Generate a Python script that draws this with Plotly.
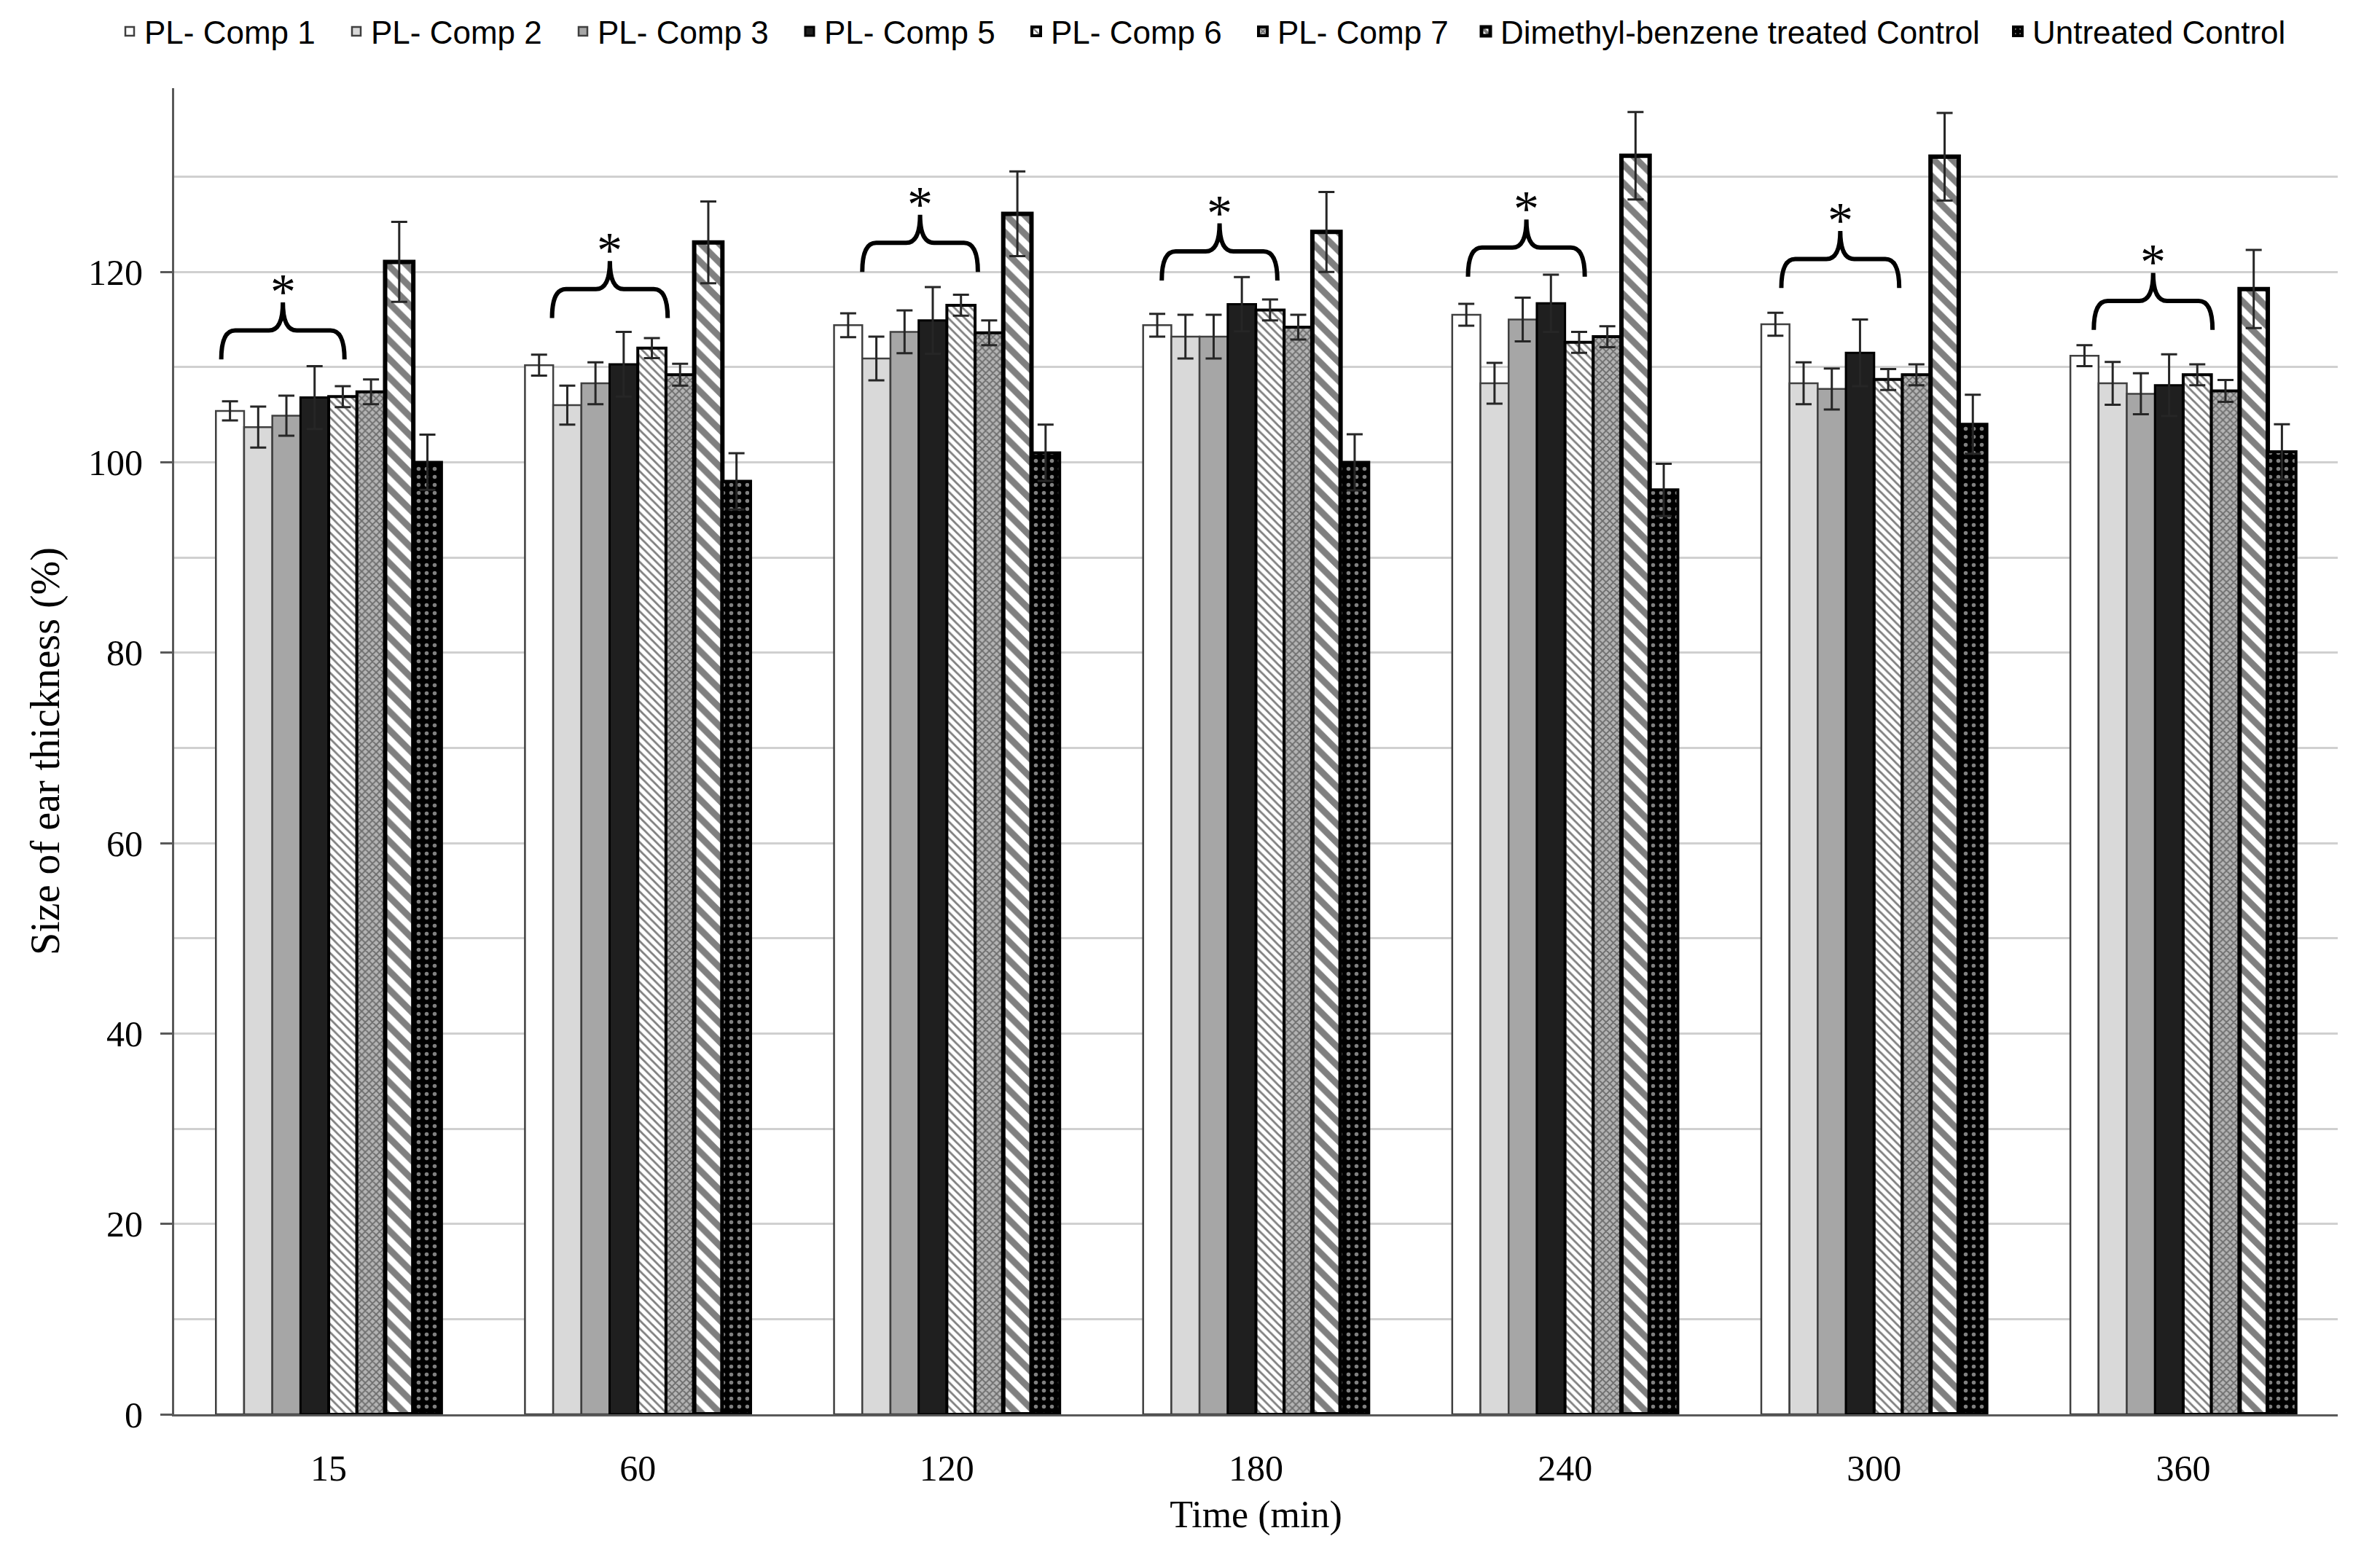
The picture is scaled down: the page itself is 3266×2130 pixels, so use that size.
import plotly.graph_objects as go

# ---------------- data ----------------
times = ["15", "60", "120", "180", "240", "300", "360"]

series_names = ["PL- Comp 1", "PL- Comp 2", "PL- Comp 3", "PL- Comp 5", "PL- Comp 6",
                "PL- Comp 7", "Dimethyl-benzene treated Control", "Untreated Control"]

comp1 = [105.4, 110.2, 114.4, 114.4, 115.5, 114.5, 111.2]
comp1_err = [1.0, 1.1, 1.25, 1.2, 1.15, 1.2, 1.1]
comp2 = [103.7, 106.0, 110.9, 113.2, 108.3, 108.3, 108.3]
comp2_err = [2.15, 2.05, 2.3, 2.3, 2.15, 2.2, 2.25]
comp3 = [104.9, 108.3, 113.7, 113.2, 115.0, 107.7, 107.2]
comp3_err = [2.1, 2.2, 2.25, 2.3, 2.3, 2.15, 2.15]
comp5 = [106.8, 110.3, 114.9, 116.6, 116.7, 111.5, 108.1]
comp5_err = [3.3, 3.4, 3.5, 2.85, 3.0, 3.5, 3.25]
comp6 = [106.9, 112.0, 116.5, 116.0, 112.6, 108.7, 109.2]
comp6_err = [1.1, 1.05, 1.1, 1.1, 1.1, 1.1, 1.1]
comp7 = [107.4, 109.2, 113.6, 114.2, 113.2, 109.2, 107.5]
comp7_err = [1.3, 1.15, 1.3, 1.3, 1.1, 1.1, 1.15]
dmb = [121.05, 123.1, 126.1, 124.2, 132.2, 132.1, 118.2]
dmb_err = [4.2, 4.3, 4.45, 4.2, 4.6, 4.6, 4.1]
untreated = [100.0, 98.0, 101.0, 100.0, 97.1, 104.0, 101.1]
untreated_err = [2.9, 2.95, 2.95, 2.95, 2.75, 3.1, 2.9]

# significance brace annotations (value level of brace feet)
brace_base = [110.8, 115.15, 120.0, 119.1, 119.5, 118.3, 113.9]

# ---------------- styling ----------------
values = [comp1, comp2, comp3, comp5, comp6, comp7, dmb, untreated]
errors = [comp1_err, comp2_err, comp3_err, comp5_err, comp6_err, comp7_err, dmb_err, untreated_err]

styles = [
    dict(color="#ffffff", line=dict(color="#404040", width=2.5)),
    dict(color="#d9d9d9", line=dict(color="#404040", width=2.5)),
    dict(color="#a6a6a6", line=dict(color="#404040", width=2.5)),
    dict(color="#1f1f1f", line=dict(color="#000000", width=3)),
    dict(color="#ffffff", line=dict(color="#000000", width=4),
         pattern=dict(shape="\\", fgcolor="#000000", bgcolor="#ffffff", size=8, solidity=0.35)),
    dict(color="#a0a0a0", line=dict(color="#000000", width=4),
         pattern=dict(shape="x", fgcolor="#222222", bgcolor="#b4b4b4", size=7, solidity=0.45)),
    dict(color="#ffffff", line=dict(color="#000000", width=6),
         pattern=dict(shape="\\", fgcolor="#000000", bgcolor="#ffffff", size=18, solidity=0.5)),
    dict(color="#000000", line=dict(color="#000000", width=4),
         pattern=dict(shape=".", fgcolor="#ffffff", bgcolor="#000000", size=11, solidity=0.2)),
]
legend_ids = ["legend"] * 6 + ["legend3", "legend2"]

W, H = 3266, 2130
xs = list(range(len(times)))

fig = go.Figure()
for name, vals, errs, st, lg in zip(series_names, values, errors, styles, legend_ids):
    fig.add_trace(go.Bar(
        x=xs, y=vals, name=name,
        marker=st,
        legend=lg,
        error_y=dict(type="data", array=errs, visible=True,
                     color="#262626", thickness=3, width=11),
    ))

BARGAP = 0.27
n_series = len(series_names)
bar_w = (1 - BARGAP) / n_series
brace_start_bars = [0.19, 0.96, 1.0, 0.66, 0.56, 0.71, 0.83]
brace_end_bars = [4.56, 5.06, 5.1, 4.76, 4.7, 4.89, 5.04]

shapes = []
annotations = []
for k, base in enumerate(brace_base):
    gl = k - (1 - BARGAP) / 2
    xl = gl + brace_start_bars[k] * bar_w
    xr = gl + brace_end_bars[k] * bar_w
    xm = (xl + xr) / 2
    ym = base + 3.05
    yt = base + 6.0
    dx = 0.045
    path = (f"M {xl},{base} Q {xl},{ym} {xl+dx},{ym} L {xm-dx},{ym} "
            f"Q {xm},{ym} {xm},{yt} Q {xm},{ym} {xm+dx},{ym} "
            f"L {xr-dx},{ym} Q {xr},{ym} {xr},{base}")
    shapes.append(dict(type="path", path=path, xref="x", yref="y",
                       line=dict(color="#000000", width=6)))
    annotations.append(dict(x=xm, y=yt, xref="x", yref="y", text="*",
                            showarrow=False, yanchor="bottom", yshift=-26,
                            font=dict(family="Liberation Serif", size=70, color="#000000")))

legend_font = dict(family="Liberation Sans Narrow, Liberation Sans, sans-serif", size=44, color="#000000")
common_legend = dict(orientation="h", xref="container", yref="container",
                     y=1.0, xanchor="left", yanchor="top",
                     font=legend_font, itemwidth=30, bgcolor="rgba(0,0,0,0)")

fig.update_layout(
    width=W, height=H,
    paper_bgcolor="#ffffff", plot_bgcolor="#ffffff",
    margin=dict(l=231, r=66, t=113, b=197),
    barmode="group", bargap=BARGAP, bargroupgap=0,
    font=dict(family="Liberation Serif", size=50, color="#000000"),
    showlegend=True,
    legend=dict(common_legend, x=150 / W, entrywidth=266),
    legend3=dict(common_legend, x=2011 / W),
    legend2=dict(common_legend, x=2741 / W),
    shapes=shapes,
    annotations=annotations,
)

fig.update_xaxes(
    range=[-0.5, len(times) - 0.5],
    tickmode="array", tickvals=xs, ticktext=times,
    showgrid=False, zeroline=False,
    showline=True, linecolor="#595959", linewidth=3,
    ticks="", ticklabelstandoff=28,
    tickfont=dict(family="Liberation Serif", size=50),
    title=dict(text="Time (min)", standoff=18,
               font=dict(family="Liberation Serif", size=52)),
)
fig.update_yaxes(
    range=[0, 139.3],
    tickmode="linear", tick0=0, dtick=20,
    showgrid=True, gridcolor="#d0d0d0", gridwidth=3,
    minor=dict(dtick=10, showgrid=True, gridcolor="#d0d0d0", gridwidth=3, ticks=""),
    zeroline=False,
    showline=True, linecolor="#595959", linewidth=3,
    ticks="outside", ticklen=16, tickwidth=3, tickcolor="#595959",
    ticklabelstandoff=14,
    tickfont=dict(family="Liberation Serif", size=50),
    title=dict(text="Size of ear thickness (%)", standoff=22,
               font=dict(family="Liberation Serif", size=56)),
)

fig.write_html("out.html")
